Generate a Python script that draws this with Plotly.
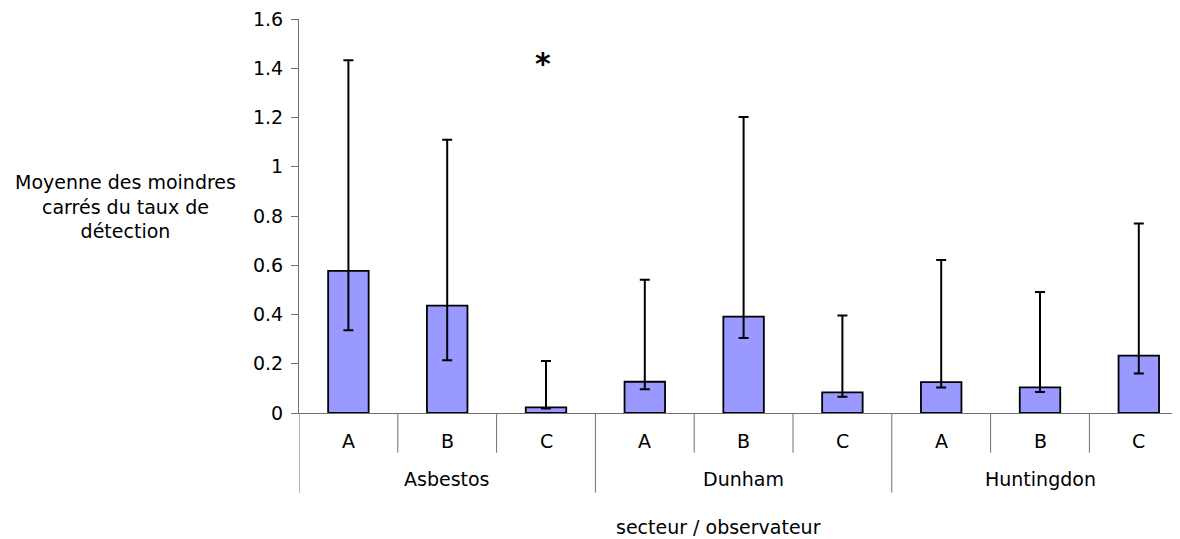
import plotly.graph_objects as go

secteurs = ["Asbestos", "Dunham", "Huntingdon"]
observateurs = ["A", "B", "C"]
moyennes = [0.577, 0.436, 0.023, 0.127, 0.391, 0.084, 0.125, 0.104, 0.233]
borne_sup = [1.432, 1.110, 0.211, 0.541, 1.202, 0.396, 0.621, 0.491, 0.770]
borne_inf = [0.336, 0.214, 0.018, 0.096, 0.305, 0.066, 0.104, 0.085, 0.160]
y_ticks = [0, 0.2, 0.4, 0.6, 0.8, 1.0, 1.2, 1.4, 1.6]
y_tick_labels = ["0", "0.2", "0.4", "0.6", "0.8", "1", "1.2", "1.4", "1.6"]
signif_index = 2
signif_y = 1.42

FONT = "DejaVu Sans, Arial, sans-serif"
FS = 19

cats = [f"{s} {o}" for s in secteurs for o in observateurs]
err_plus = [t - m for t, m in zip(borne_sup, moyennes)]
err_minus = [m - b for m, b in zip(moyennes, borne_inf)]

# page has an 8px body margin; figure is sized to fit the 1180x539 window
OFF = 8
W, H = 1180 - OFF, 539 - OFF
left_pg, top_pg, bottom_pg = 299.0, 19.3, 413.0
cat_w = 98.8
plot_w = W - (left_pg - OFF)
x_max = -0.5 + plot_w / cat_w

fig = go.Figure()
fig.add_trace(go.Bar(
    x=cats, y=moyennes,
    marker=dict(color="#9999FF", line=dict(color="black", width=1.8)),
    width=0.41,
    error_y=dict(type="data", symmetric=False, array=err_plus, arrayminus=err_minus,
                 color="black", thickness=2, width=5),
    hoverinfo="skip",
))

n = len(cats)
shapes = []
for i in range(n + 1):
    group = (i % len(observateurs) == 0)
    shapes.append(dict(type="line", xref="x", yref="paper",
                       x0=i - 0.5, x1=i - 0.5, y0=0, y1=-0.2024 if group else -0.1008,
                       line=dict(color="#707070", width=1)))

def px_to_paper(px, py):
    return (px - left_pg) / plot_w, (bottom_pg - py) / (bottom_pg - top_pg)

annotations = []
for i, c in enumerate(cats):
    annotations.append(dict(x=c, y=-0.0703, xref="x", yref="paper", text=observateurs[i % 3],
                            showarrow=False, font=dict(size=FS, color="black", family=FONT),
                            yanchor="middle"))
for g, s in enumerate(secteurs):
    annotations.append(dict(x=g * 3 + 1, y=-0.1676, xref="x", yref="paper", text=s,
                            showarrow=False, font=dict(size=FS, color="black", family=FONT),
                            yanchor="middle"))
xt_x, xt_y = px_to_paper(718, 527)
annotations.append(dict(x=xt_x, y=xt_y, xref="paper", yref="paper", text="secteur / observateur",
                        showarrow=False, xanchor="center", yanchor="middle",
                        font=dict(size=FS, color="black", family=FONT)))
yt_x, yt_y = px_to_paper(125, 207)
annotations.append(dict(x=yt_x, y=yt_y, xref="paper", yref="paper",
                        text="Moyenne des moindres<br>carrés du taux de<br>détection",
                        showarrow=False, align="center", xanchor="center", yanchor="middle",
                        font=dict(size=FS, color="black", family=FONT)))
annotations.append(dict(x=cats[signif_index], y=signif_y, xref="x", yref="y", text="<b>*</b>",
                        showarrow=False, xshift=-3, font=dict(size=30, color="black", family=FONT)))

fig.update_layout(
    width=W, height=H,
    margin=dict(l=left_pg - OFF, r=0, t=top_pg - OFF, b=H - (bottom_pg - OFF), pad=0),
    paper_bgcolor="white", plot_bgcolor="white",
    showlegend=False,
    shapes=shapes, annotations=annotations,
    xaxis=dict(categoryorder="array", categoryarray=cats, range=[-0.5, x_max],
               showticklabels=False, ticks="", showline=True, linecolor="#707070",
               linewidth=1, showgrid=False, zeroline=False, fixedrange=True),
    yaxis=dict(range=[0, 1.6], tickvals=y_ticks, ticktext=y_tick_labels,
               ticks="outside", ticklen=7, tickcolor="#707070", showline=True,
               linecolor="#707070", linewidth=1, showgrid=False, zeroline=False,
               ticklabeloverflow="allow",
               tickfont=dict(size=FS, color="black", family=FONT), ticklabelstandoff=4),
    font=dict(family=FONT),
)
fig.write_html("out.html")
